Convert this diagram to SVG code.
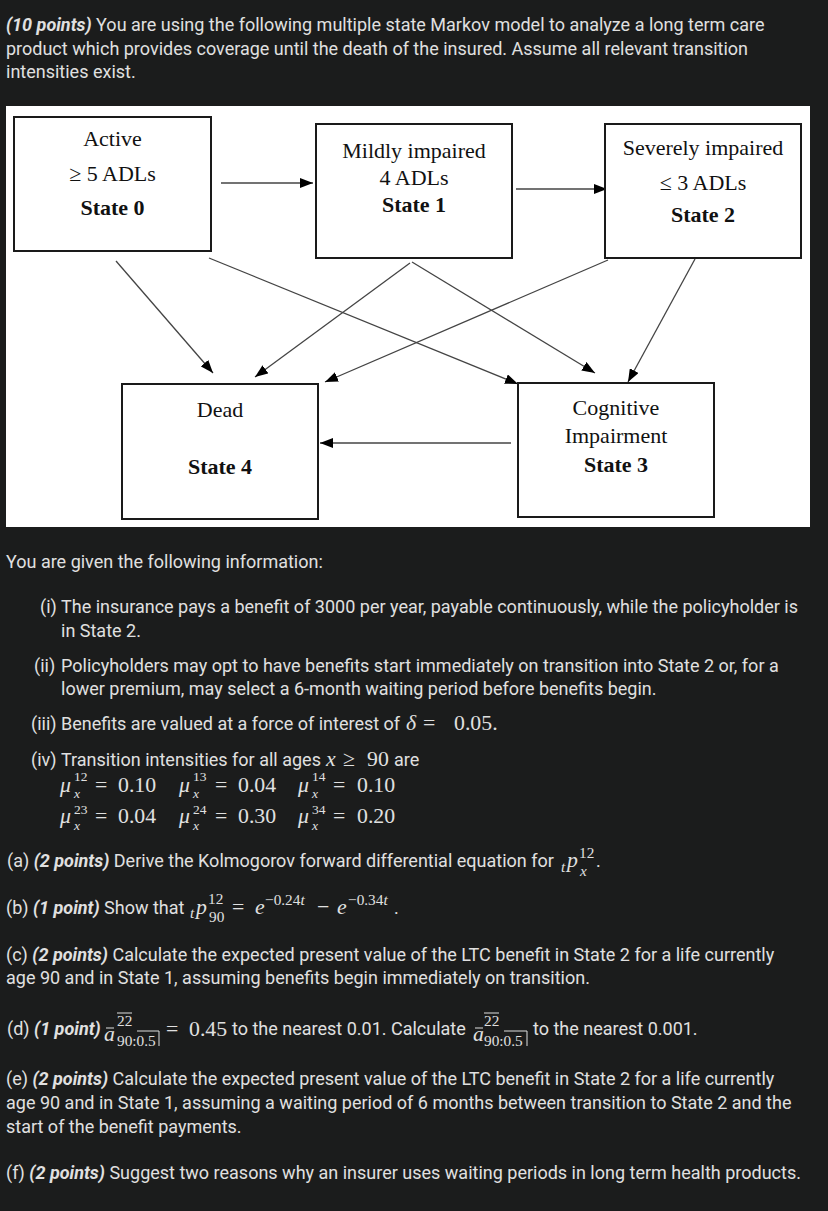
<svg xmlns="http://www.w3.org/2000/svg" width="828" height="1211" viewBox="0 0 828 1211">
<defs>
<marker id="ah" markerUnits="userSpaceOnUse" markerWidth="13" markerHeight="10" refX="13" refY="5" orient="auto">
<path d="M0,0 L13,5 L0,10 z" fill="#000"/>
</marker>
</defs>
<style>
.t{font-family:Roboto,"Noto Sans",sans-serif;font-size:18px;fill:#e0e0e0}
.b{font-weight:bold;font-style:italic}
.m{font-family:"Liberation Serif","Times New Roman",serif;font-size:21.8px;fill:#e0e0e0}
.s{font-size:15.3px}
.k{font-size:13.5px}
.i{font-style:italic}
.box{fill:#fff;stroke:#1a1a1a;stroke-width:2}
.lbl{font-family:"Liberation Serif","Times New Roman",serif;font-size:22px;fill:#111;text-anchor:middle}
.bd{font-weight:bold}
.conn line{stroke:#444;stroke-width:1.3;marker-end:url(#ah)}
.rule{stroke:#e0e0e0;stroke-width:1}
</style>
<rect x="0" y="0" width="828" height="1211" fill="#1b1c1c"/>

<text class="t" x="6" y="31"><tspan class="b">(10 points)</tspan> You are using the following multiple state Markov model to analyze a long term care</text>
<text class="t" x="6" y="54.5">product which provides coverage until the death of the insured. Assume all relevant transition</text>
<text class="t" x="6" y="78">intensities exist.</text>

<rect x="6" y="106" width="804" height="421" fill="#fff"/>

<g id="connectors" class="conn">
<line x1="221" y1="183" x2="313" y2="183"/>
<line x1="516" y1="189" x2="607" y2="189"/>
<line x1="511" y1="443" x2="320" y2="443"/>
<line x1="116" y1="261" x2="213" y2="373"/>
<line x1="209" y1="258" x2="518" y2="384"/>
<line x1="410" y1="263" x2="255" y2="377"/>
<line x1="412" y1="262" x2="595" y2="373"/>
<line x1="608" y1="260" x2="325" y2="382"/>
<line x1="695" y1="259" x2="628" y2="382"/>
</g>

<g id="state0">
<rect class="box" x="14" y="117" width="197" height="134"/>
<text class="lbl" x="112.5" y="146">Active</text>
<text class="lbl" x="112.5" y="181">≥ 5 ADLs</text>
<text class="lbl bd" x="112.5" y="215">State 0</text>
</g>
<g id="state1">
<rect class="box" x="316" y="124" width="196" height="134"/>
<text class="lbl" x="414" y="158">Mildly impaired</text>
<text class="lbl" x="414" y="185">4 ADLs</text>
<text class="lbl bd" x="414" y="212">State 1</text>
</g>
<g id="state2">
<rect class="box" x="605" y="124" width="196" height="134"/>
<text class="lbl" x="703" y="155">Severely impaired</text>
<text class="lbl" x="703" y="190">≤ 3 ADLs</text>
<text class="lbl bd" x="703" y="222">State 2</text>
</g>
<g id="state4">
<rect class="box" x="122" y="384" width="196" height="135"/>
<text class="lbl" x="220" y="417">Dead</text>
<text class="lbl bd" x="220" y="474">State 4</text>
</g>
<g id="state3">
<rect class="box" x="518" y="383" width="196" height="134"/>
<text class="lbl" x="616" y="415">Cognitive</text>
<text class="lbl" x="616" y="443">Impairment</text>
<text class="lbl bd" x="616" y="472">State 3</text>
</g>

<text class="t" x="6" y="568">You are given the following information:</text>
<text class="t" x="40" y="613">(i)</text>
<text class="t" x="61" y="613">The insurance pays a benefit of 3000 per year, payable continuously, while the policyholder is</text>
<text class="t" x="61" y="637">in State 2.</text>
<text class="t" x="34" y="672">(ii)</text>
<text class="t" x="61" y="672">Policyholders may opt to have benefits start immediately on transition into State 2 or, for a</text>
<text class="t" x="61" y="695">lower premium, may select a 6-month waiting period before benefits begin.</text>
<text class="t" x="31" y="730">(iii)</text>
<text class="t" x="61" y="730">Benefits are valued at a force of interest of</text>
<text class="m i" x="406" y="730">δ</text>
<text class="m" x="423" y="730">=</text>
<text class="m" x="454" y="730">0.05.</text>

<text class="t" x="31" y="766">(iv)</text>
<text class="t" x="61" y="766">Transition intensities for all ages</text>
<text class="m i" x="326" y="766">x</text>
<text class="m" x="343" y="766">≥</text>
<text class="m" x="367" y="766">90</text>
<text class="t" x="394" y="766">are</text>

<text class="m i" x="60" y="792">μ</text><text class="m k" x="74" y="781">12</text><text class="m k i" x="74" y="797.5">x</text><text class="m" x="95" y="792">=</text><text class="m" x="118" y="792">0.10</text>
<text class="m i" x="179" y="792">μ</text><text class="m k" x="193" y="781">13</text><text class="m k i" x="193" y="797.5">x</text><text class="m" x="215" y="792">=</text><text class="m" x="238" y="792">0.04</text>
<text class="m i" x="298" y="792">μ</text><text class="m k" x="312" y="781">14</text><text class="m k i" x="312" y="797.5">x</text><text class="m" x="333" y="792">=</text><text class="m" x="357" y="792">0.10</text>
<text class="m i" x="60" y="823">μ</text><text class="m k" x="74" y="814">23</text><text class="m k i" x="74" y="830">x</text><text class="m" x="95" y="823">=</text><text class="m" x="118" y="823">0.04</text>
<text class="m i" x="179" y="823">μ</text><text class="m k" x="193" y="814">24</text><text class="m k i" x="193" y="830">x</text><text class="m" x="215" y="823">=</text><text class="m" x="238" y="823">0.30</text>
<text class="m i" x="298" y="823">μ</text><text class="m k" x="312" y="814">34</text><text class="m k i" x="312" y="830">x</text><text class="m" x="333" y="823">=</text><text class="m" x="357" y="823">0.20</text>

<text class="t" x="7" y="867">(a) <tspan class="b">(2 points)</tspan> Derive the Kolmogorov forward differential equation for</text>
<text class="m s i" x="561" y="872">t</text><text class="m i" x="567" y="867">p</text><text class="m s" x="579" y="858">12</text><text class="m s i" x="580" y="876">x</text><text class="t" x="596" y="867">.</text>

<text class="t" x="6" y="914">(b) <tspan class="b">(1 point)</tspan> Show that</text>
<text class="m s i" x="190" y="918">t</text><text class="m i" x="196" y="914">p</text><text class="m s" x="208" y="904">12</text><text class="m s" x="209" y="922">90</text>
<text class="m" x="232" y="914">=</text>
<text class="m i" x="255" y="914">e</text><text class="m s" x="265" y="905">−0.24<tspan class="i">t</tspan></text>
<text class="m" x="317" y="914">−</text>
<text class="m i" x="337" y="914">e</text><text class="m s" x="348" y="905">−0.34<tspan class="i">t</tspan></text>
<text class="t" x="394" y="914">.</text>

<text class="t" x="6" y="961">(c) <tspan class="b">(2 points)</tspan> Calculate the expected present value of the LTC benefit in State 2 for a life currently</text>
<text class="t" x="6" y="984">age 90 and in State 1, assuming benefits begin immediately on transition.</text>

<text class="t" x="7" y="1035">(d) <tspan class="b">(1 point)</tspan></text>
<text class="m i" x="104" y="1041">a</text><line class="rule" x1="106" y1="1028" x2="114" y2="1028"/>
<text class="m s" x="117" y="1026">22</text><line class="rule" x1="117" y1="1013" x2="132" y2="1013"/>
<text class="m s" x="117" y="1046">90:0.5</text><path d="M137,1031 H159 V1046" fill="none" stroke="#e0e0e0" stroke-width="1"/>
<text class="m" x="166" y="1036">=</text>
<text class="m" x="189" y="1036">0.45</text>
<text class="t" x="232" y="1035">to the nearest 0.01. Calculate</text>
<text class="m i" x="473" y="1041">a</text><line class="rule" x1="475" y1="1028" x2="483" y2="1028"/>
<text class="m s" x="484" y="1026">22</text><line class="rule" x1="484" y1="1013" x2="499" y2="1013"/>
<text class="m s" x="484" y="1046">90:0.5</text><path d="M504,1031 H527 V1046" fill="none" stroke="#e0e0e0" stroke-width="1"/>
<text class="t" x="533" y="1035">to the nearest 0.001.</text>

<text class="t" x="6" y="1085">(e) <tspan class="b">(2 points)</tspan> Calculate the expected present value of the LTC benefit in State 2 for a life currently</text>
<text class="t" x="6" y="1109">age 90 and in State 1, assuming a waiting period of 6 months between transition to State 2 and the</text>
<text class="t" x="6" y="1133">start of the benefit payments.</text>

<text class="t" x="6" y="1179">(f) <tspan class="b">(2 points)</tspan> Suggest two reasons why an insurer uses waiting periods in long term health products.</text>
</svg>
